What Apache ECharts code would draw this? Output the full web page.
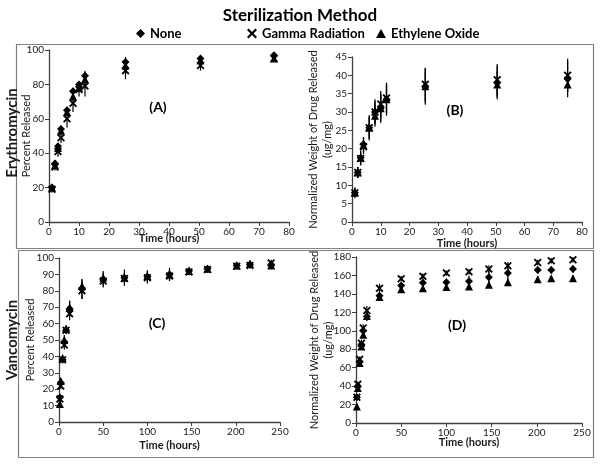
<!DOCTYPE html>
<html><head><meta charset="utf-8">
<script src="https://cdn.jsdelivr.net/npm/echarts@6/dist/echarts.min.js"></script>
<style>html,body{margin:0;padding:0;background:#fff}#c{width:600px;height:465px}</style>
</head><body><div id="c"></div>
<script>
// ---- Data ----
const seriesNames = ['None', 'Gamma Radiation', 'Ethylene Oxide'];
const timeEry = [1, 2, 3, 4, 6, 8, 10, 12, 25.5, 50.5, 75];
const timeVan = [1, 2, 4, 6, 8, 12, 26, 50, 74, 100, 125, 147, 168, 201, 216, 240];

// Panel A: Erythromycin percent released
const aNone  = [20, 34, 44, 54, 65, 76, 80, 85, 93, 95, 97];
const aGamma = [19, 32, 41, 49, 60, 69, 77, 79, 88, 91, 95];
const aEO    = [20, 33, 43, 53, 64, 73, 78, 83, 91, 94, 95];
const aErrNone  = [2, 2, 2, 2, 2, 2, 2, 3, 3, 2, 1.5];
const aErrGamma = [2, 2, 3, 3, 5, 5, 4, 6, 5, 3, 2];
const aErrEO    = [2, 2, 2, 2, 2, 2, 2, 3, 3, 2, 2];

// Panel B: Erythromycin normalized weight (ug/mg)
const bNone  = [8, 13.5, 17.5, 21.2, 25.7, 30, 31, 33.5, 37, 38, 39];
const bGamma = [8, 13.5, 17.3, 20.5, 25.7, 30, 32.2, 33.8, 37.6, 38.8, 40];
const bEO    = [8, 13.5, 17.5, 21, 25.7, 29, 31, 33.5, 37, 37.5, 37.5];
const bErrNone  = [1.5, 1.5, 2, 2, 3.5, 3.5, 4, 4.5, 5, 4.5, 5];
const bErrGamma = [1.2, 1.5, 1.8, 2, 3, 3, 3.5, 4, 4.5, 4.3, 4.5];
const bErrEO    = [1.2, 1.5, 1.8, 2, 3, 3, 3.5, 4, 4.5, 3.5, 2];

// Panel C: Vancomycin percent released
const cNone  = [15, 24, 38, 49, 56, 69, 81, 87, 88, 88.5, 90, 92, 93.5, 95.5, 96, 96];
const cGamma = [14, 22, 38, 47, 56, 66, 80, 86, 87.5, 88, 89, 91.5, 93, 95, 95.5, 97];
const cEO    = [11, 25, 39, 50, 57, 70, 83, 88, 88, 89, 90, 92, 93.5, 95.5, 96.5, 95.5];
const cErrNone  = [2, 2, 2, 3, 2, 5, 6, 5, 5, 4, 4, 2, 2, 1.5, 2, 2];
const cErrGamma = [2, 2, 2, 3, 2, 4, 5, 3, 3, 3, 3, 2, 2, 1.5, 2, 2];
const cErrEO    = [2, 2, 2, 3, 2, 4, 4, 3, 3, 3, 3, 2, 2, 1.5, 2, 2];

// Panel D: Vancomycin normalized weight (ug/mg)
const dNone  = [28, 40, 66.6, 85, 100, 115.5, 138, 149, 152, 152.5, 153.6, 158, 162.6, 166, 166, 167];
const dGamma = [28, 42, 69, 86.5, 103, 122, 146, 156.5, 159, 162.6, 164, 167, 170.6, 174, 176, 177];
const dEO    = [18, 38, 65, 83, 95.6, 116, 136.5, 145, 146, 147.4, 148, 150, 152.5, 156, 157, 157];
const dErrNone  = [3, 3, 3, 4, 4, 5, 4, 3, 4, 4, 6, 7, 7, 4, 4, 4];
const dErrGamma = [3, 3, 3, 4, 4, 5, 5, 3, 3, 3, 3, 4, 4, 3, 3, 3];
const dErrEO    = [3, 3, 3, 3, 3, 4, 3, 3, 3, 3, 3, 3, 4, 3, 3, 3];

// ---- Styling / building ----
const FONT = 'Lato';
const X_PATH = 'path://M0,1.6 L1.6,0 L5,3.4 L8.4,0 L10,1.6 L6.6,5 L10,8.4 L8.4,10 L5,6.6 L1.6,10 L0,8.4 L3.4,5 Z';
const symbols = ['diamond', X_PATH, 'triangle'];
const symbolSizes = [8, 8, 8];

const panels = [
  {t: timeEry, vals: [aNone, aGamma, aEO], errs: [aErrNone, aErrGamma, aErrEO]},
  {t: timeEry, vals: [bNone, bGamma, bEO], errs: [bErrNone, bErrGamma, bErrEO]},
  {t: timeVan, vals: [cNone, cGamma, cEO], errs: [cErrNone, cErrGamma, cErrEO]},
  {t: timeVan, vals: [dNone, dGamma, dEO], errs: [dErrNone, dErrGamma, dErrEO]}
];

const grids = [
  {left: 49, top: 50, width: 240, height: 172},
  {left: 352, top: 57, width: 230, height: 165},
  {left: 59, top: 258, width: 221, height: 164},
  {left: 356, top: 257, width: 226, height: 166}
];

const axisLabel = {fontFamily: FONT, fontSize: 10, color: '#1a1a1a', margin: 5};
const axisLine = {show: true, lineStyle: {color: '#404040', width: 1.3}};
const axisTick = {show: true, inside: false, length: 4, lineStyle: {color: '#404040'}};

function xAxis(i, max, interval, nameGap) {
  return {type: 'value', gridIndex: i, min: 0, max: max, interval: interval,
    name: 'Time (hours)', nameLocation: 'middle', nameGap: nameGap, nameMoveOverlap: false,
    nameTextStyle: {fontFamily: FONT, fontSize: 11, fontWeight: 'bold', color: '#1a1a1a'},
    axisLine: axisLine, axisTick: axisTick, axisLabel: axisLabel, splitLine: {show: false}};
}
function yAxis(i, max, interval, name, nameGap) {
  return {type: 'value', gridIndex: i, min: 0, max: max, interval: interval,
    name: name, nameLocation: 'middle', nameGap: nameGap, nameRotate: 90, nameMoveOverlap: false,
    nameTextStyle: {fontFamily: FONT, fontSize: 11, color: '#1a1a1a', lineHeight: 14},
    axisLine: axisLine, axisTick: axisTick, axisLabel: axisLabel, splitLine: {show: false}};
}

const series = [];
panels.forEach((p, gi) => {
  for (let k = 0; k < 3; k++) {
    series.push({
      type: 'custom', xAxisIndex: gi, yAxisIndex: gi, z: 1, silent: true,
      encode: {x: 0, y: 1},
      data: p.t.map((x, j) => [x, p.vals[k][j], p.errs[k][j]]),
      renderItem: function (params, api) {
        const x = api.value(0), y = api.value(1), e = api.value(2);
        const p1 = api.coord([x, y - e]), p2 = api.coord([x, y + e]);
        return {type: 'line', shape: {x1: p1[0], y1: p1[1], x2: p2[0], y2: p2[1]},
          style: {stroke: '#000', lineWidth: 1.2}};
      }
    });
  }
  for (let k = 0; k < 3; k++) {
    series.push({
      type: 'scatter', name: seriesNames[k], xAxisIndex: gi, yAxisIndex: gi, z: 3,
      symbol: symbols[k], symbolSize: symbolSizes[k],
      itemStyle: {color: '#000', opacity: 1},
      data: p.t.map((x, j) => [x, p.vals[k][j]])
    });
  }
});

const legendText = {fontFamily: FONT, fontSize: 13, fontWeight: 'bold', color: '#000'};
const option = {
  animation: false,
  backgroundColor: '#fff',
  title: {text: 'Sterilization Method', left: 'center', top: 2,
    textStyle: {fontFamily: FONT, fontSize: 17, fontWeight: 'bold', color: '#000'}},
  legend: [
    {data: ['None'], left: 131, top: 22, itemWidth: 9, itemHeight: 9, textStyle: legendText, selectedMode: false},
    {data: ['Gamma Radiation'], left: 242, top: 22, itemWidth: 10, itemHeight: 10, textStyle: legendText, selectedMode: false},
    {data: ['Ethylene Oxide'], left: 371, top: 22, itemWidth: 10, itemHeight: 9, textStyle: legendText, selectedMode: false}
  ],
  grid: grids,
  xAxis: [xAxis(0, 80, 10, 11), xAxis(1, 80, 10, 16), xAxis(2, 250, 50, 18), xAxis(3, 250, 50, 14)],
  yAxis: [
    yAxis(0, 100, 20, 'Percent Released', 16),
    yAxis(1, 45, 5, 'Normalized Weight of Drug Released\n(ug/mg)', 18),
    yAxis(2, 100, 10, 'Percent Released', 22),
    yAxis(3, 180, 20, 'Normalized Weight of Drug Released\n(ug/mg)', 21)
  ],
  series: series,
  graphic: [
    {type: 'rect', shape: {x: 16.5, y: 44.5, width: 577, height: 204}, style: {fill: 'none', stroke: '#808080', lineWidth: 1.2}, z: -1},
    {type: 'rect', shape: {x: 18.5, y: 250.5, width: 575, height: 207}, style: {fill: 'none', stroke: '#808080', lineWidth: 1.2}, z: -1},
    {type: 'text', x: 12, y: 133, rotation: Math.PI / 2,
      style: {text: 'Erythromycin', fontFamily: FONT, fontSize: 15, fontWeight: 'bold', fill: '#1a1a1a', align: 'center', verticalAlign: 'middle'}},
    {type: 'text', x: 12, y: 340, rotation: Math.PI / 2,
      style: {text: 'Vancomycin', fontFamily: FONT, fontSize: 15, fontWeight: 'bold', fill: '#1a1a1a', align: 'center', verticalAlign: 'middle'}},
    {type: 'text', x: 158, y: 107, style: {text: '(A)', fontFamily: FONT, fontSize: 14, fontWeight: 'bold', fill: '#000', align: 'center', verticalAlign: 'middle'}},
    {type: 'text', x: 455, y: 110, style: {text: '(B)', fontFamily: FONT, fontSize: 14, fontWeight: 'bold', fill: '#000', align: 'center', verticalAlign: 'middle'}},
    {type: 'text', x: 157, y: 323, style: {text: '(C)', fontFamily: FONT, fontSize: 14, fontWeight: 'bold', fill: '#000', align: 'center', verticalAlign: 'middle'}},
    {type: 'text', x: 457, y: 325, style: {text: '(D)', fontFamily: FONT, fontSize: 14, fontWeight: 'bold', fill: '#000', align: 'center', verticalAlign: 'middle'}}
  ]
};
const chart = echarts.init(document.getElementById('c'), null, {renderer: 'canvas'});
chart.setOption(option);
</script></body></html>
